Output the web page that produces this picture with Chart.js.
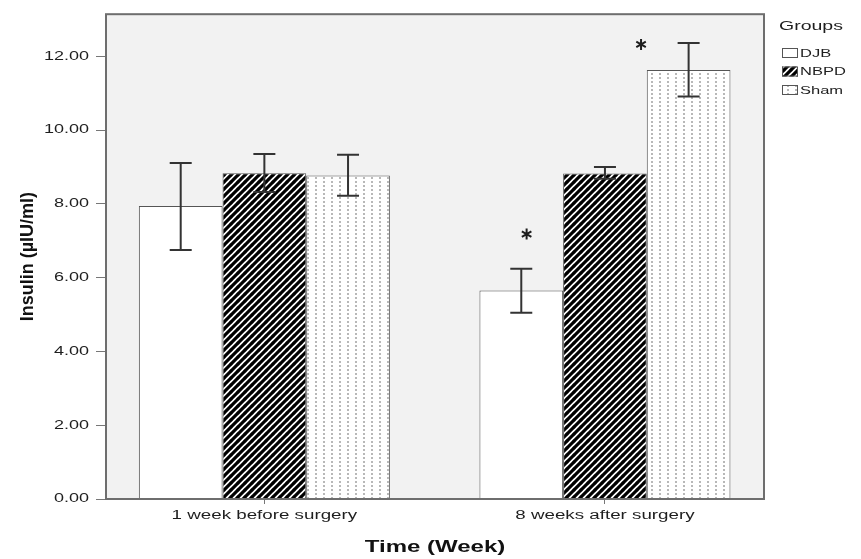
<!DOCTYPE html>
<html>
<head>
<meta charset="utf-8">
<title>Insulin by group</title>
<script src="https://cdn.jsdelivr.net/npm/chart.js@4.4.0/dist/chart.umd.min.js"></script>
<style>
html, body { margin: 0; padding: 0; background: #fff; }
canvas { display: block; }
</style>
</head>
<body>
<canvas id="chart" width="861" height="559"></canvas>
<script>
// data
const groupLabels = ['1 week before surgery', '8 weeks after surgery'];
const groupPos = [1, 2];
const seriesNames = ['DJB', 'NBPD', 'Sham'];

const djb = [7.94, 5.65];
const djbLow = [6.75, 5.05];
const djbHigh = [9.11, 6.24];

const nbpd = [8.83, 8.82];
const nbpdLow = [8.32, 8.68];
const nbpdHigh = [9.35, 9.00];

const sham = [8.77, 11.63];
const shamLow = [8.22, 10.91];
const shamHigh = [9.33, 12.36];

const yTicks = [0, 2, 4, 6, 8, 10, 12];

// asterisks (x on the group axis, y in µIU/ml)
const starX = [1.77, 2.106];
const starY = [7.18, 12.32];

const FONT = '"Liberation Sans", Arial, sans-serif';
const INK = '#1e1e1e';

const canvas = document.getElementById('chart');
const ctx = canvas.getContext('2d');

// the source figure is stretched sideways, so flat text is drawn wider
const STRETCH = 1.5;
const rawFillText = ctx.fillText.bind(ctx);
ctx.fillText = function (text, x, y) {
const m = this.getTransform();
if (m.b !== 0 || m.c !== 0) return rawFillText(text, x, y);
this.save();
this.translate(x, y);
this.scale(STRETCH, 1);
rawFillText(text, 0, 0);
this.restore();
};

function stripePattern() {
const s = 7;
const c = document.createElement('canvas');
c.width = s; c.height = s;
const g = c.getContext('2d');
g.fillStyle = '#fff';
g.fillRect(0, 0, s, s);
g.strokeStyle = '#000';
g.lineWidth = 3.2;
g.beginPath();
g.moveTo(-1, 1); g.lineTo(1, -1);
g.moveTo(0, s); g.lineTo(s, 0);
g.moveTo(s - 1, s + 1); g.lineTo(s + 1, s - 1);
g.stroke();
return ctx.createPattern(c, 'repeat');
}

function dotPattern() {
const c = document.createElement('canvas');
c.width = 8; c.height = 4;
const g = c.getContext('2d');
g.fillStyle = '#fff';
g.fillRect(0, 0, 8, 4);
g.fillStyle = '#b8b8b8';
g.fillRect(3, 1, 2, 2);
return ctx.createPattern(c, 'repeat');
}

const fills = ['#ffffff', stripePattern(), dotPattern()];
const values = [djb, nbpd, sham];
const lows = [djbLow, nbpdLow, shamLow];
const highs = [djbHigh, nbpdHigh, shamHigh];

const datasets = seriesNames.map((name, d) => ({
label: name,
data: groupPos.map((x, i) => ({ x: x, y: values[d][i] })),
backgroundColor: fills[d],
borderColor: '#555',
borderWidth: 1,
categoryPercentage: 0.737,
barPercentage: 1
}));

const plotFrame = {
id: 'plotFrame',
beforeDatasetsDraw(chart) {
const { ctx, chartArea: a } = chart;
ctx.save();
ctx.fillStyle = '#f2f2f2';
ctx.fillRect(a.left, a.top, a.right - a.left, a.bottom - a.top);
ctx.restore();
},
afterDatasetsDraw(chart) {
const { ctx, chartArea: a } = chart;
const y = chart.scales.y, x = chart.scales.x;
ctx.save();
// error bars
ctx.strokeStyle = '#333';
ctx.lineWidth = 2;
seriesNames.forEach((name, d) => {
const meta = chart.getDatasetMeta(d);
meta.data.forEach((bar, i) => {
const top = y.getPixelForValue(highs[d][i]);
const bot = y.getPixelForValue(lows[d][i]);
ctx.beginPath();
ctx.moveTo(bar.x, top); ctx.lineTo(bar.x, bot);
ctx.moveTo(bar.x - 11, top); ctx.lineTo(bar.x + 11, top);
ctx.moveTo(bar.x - 11, bot); ctx.lineTo(bar.x + 11, bot);
ctx.stroke();
});
});
// frame
ctx.strokeStyle = '#6e6e6e';
ctx.lineWidth = 2;
ctx.strokeRect(a.left, a.top, a.right - a.left, a.bottom - a.top);
// asterisks
ctx.strokeStyle = INK;
ctx.lineWidth = 2;
starX.forEach((sx, k) => {
const px = x.getPixelForValue(sx);
const py = y.getPixelForValue(starY[k]);
ctx.beginPath();
[90, 30, 150].forEach(deg => {
const r = deg * Math.PI / 180;
ctx.moveTo(px - 5.5 * Math.cos(r), py - 5.5 * Math.sin(r));
ctx.lineTo(px + 5.5 * Math.cos(r), py + 5.5 * Math.sin(r));
});
ctx.stroke();
});
ctx.restore();
},
afterDraw(chart) {
const { ctx, chartArea: a } = chart;
const lx = a.right + 15;
ctx.save();
ctx.fillStyle = INK;
ctx.font = '13px ' + FONT;
ctx.textBaseline = 'alphabetic';
ctx.textAlign = 'left';
ctx.fillText('Groups', lx, 30);
ctx.font = '11px ' + FONT;
ctx.textBaseline = 'middle';
seriesNames.forEach((name, d) => {
const by = 48 + d * 18.5;
ctx.fillStyle = fills[d];
ctx.fillRect(lx + 3, by, 16, 10);
ctx.strokeStyle = '#555';
ctx.lineWidth = 1;
ctx.strokeRect(lx + 3.5, by + 0.5, 15, 9);
ctx.fillStyle = INK;
ctx.fillText(name, lx + 21, by + 5.5);
});
ctx.restore();
}
};

new Chart(ctx, {
type: 'bar',
data: { datasets },
options: {
responsive: false,
animation: false,
devicePixelRatio: 1,
events: [],
layout: { padding: { top: 11, right: 97, left: 0, bottom: 0 } },
plugins: { legend: { display: false }, tooltip: { enabled: false } },
scales: {
x: {
type: 'linear',
offset: false,
min: 0.535,
max: 2.467,
afterBuildTicks: s => { s.ticks = groupPos.map(v => ({ value: v })); },
afterFit: s => { s.height = 60; },
ticks: {
callback: (v, i) => groupLabels[i],
autoSkip: false,
maxRotation: 0,
padding: 4,
color: INK,
font: { family: FONT, size: 12.5 }
},
grid: { drawOnChartArea: false, offset: false, tickLength: 5, color: '#777' },
border: { display: false },
title: {
display: true,
text: 'Time (Week)',
color: '#111',
padding: { top: 0, bottom: 2 },
font: { family: FONT, size: 16, weight: 'bold' }
}
},
y: {
min: 0,
max: 13.14,
afterBuildTicks: s => { s.ticks = yTicks.map(v => ({ value: v })); },
afterFit: s => { s.width = 106; },
ticks: {
callback: v => v.toFixed(2),
padding: 7,
color: INK,
font: { family: FONT, size: 12 }
},
grid: { drawOnChartArea: false, tickLength: 10, color: '#777' },
border: { display: false },
title: {
display: true,
text: 'Insulin (µIU/ml)',
color: '#111',
padding: { top: 17, bottom: 0 },
font: { family: FONT, size: 18, weight: 'bold' }
}
}
}
},
plugins: [plotFrame]
});
</script>
</body>
</html>
